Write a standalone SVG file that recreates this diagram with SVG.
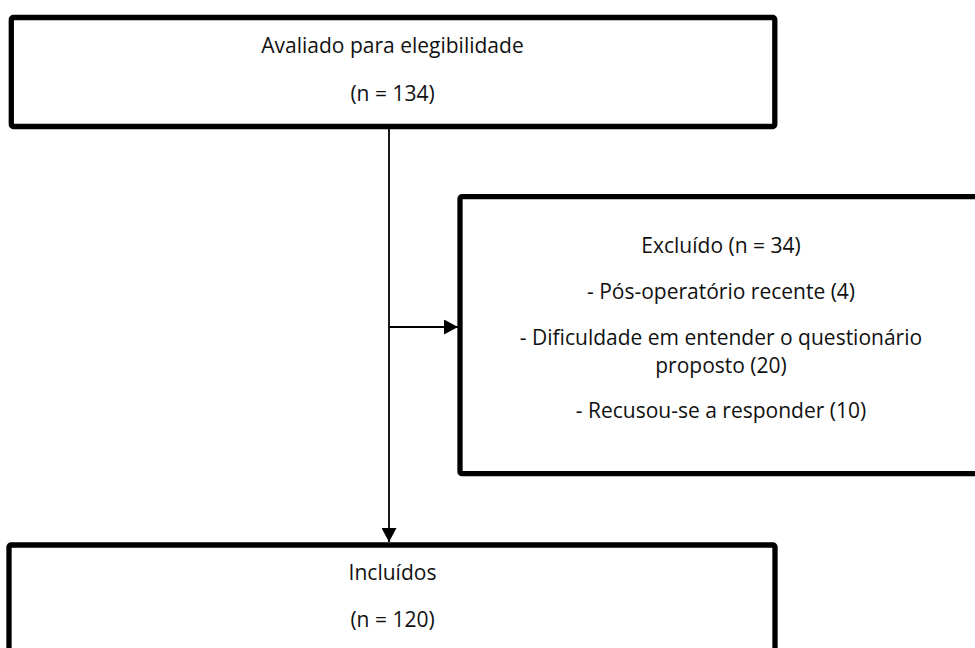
<svg xmlns="http://www.w3.org/2000/svg" width="975" height="648" viewBox="0 0 975 648">
<style>
.box{fill:#fff;stroke:#000;stroke-width:5.3}
.t{font-family:"Open Sans","Noto Sans",sans-serif;font-size:21px;fill:#111;text-anchor:middle}
.c{stroke:#000;stroke-width:1.8;fill:none}
</style>
<defs>
<marker id="ah" markerWidth="14" markerHeight="15" refX="14" refY="7.5" orient="auto" markerUnits="userSpaceOnUse" viewBox="0 0 14 15">
<path d="M0,0 L14,7.5 L0,15 z" fill="#000"/>
</marker>
</defs>
<rect width="975" height="648" fill="#fff"/>
<g id="connectors">
<line class="c" x1="389" y1="127" x2="389" y2="542" marker-end="url(#ah)"/>
<line class="c" x1="389" y1="327" x2="458" y2="327" marker-end="url(#ah)"/>
</g>
<g id="node-avaliado">
<rect class="box" x="11.3" y="17.5" width="763.5" height="109" rx="2"/>
<text class="t" x="392.5" y="53">Avaliado para elegibilidade</text>
<text class="t" x="392.5" y="101">(n = 134)</text>
</g>
<g id="node-excluido">
<rect class="box" x="460" y="196.7" width="530" height="277" rx="2"/>
<text class="t" x="721" y="253">Excluído (n = 34)</text>
<text class="t" x="721" y="299">- Pós-operatório recente (4)</text>
<text class="t" x="721" y="345">- Dificuldade em entender o questionário</text>
<text class="t" x="721" y="373">proposto (20)</text>
<text class="t" x="721" y="418">- Recusou-se a responder (10)</text>
</g>
<g id="node-incluidos">
<rect class="box" x="9" y="545" width="766" height="120" rx="2"/>
<text class="t" x="392.5" y="580">Incluídos</text>
<text class="t" x="392.5" y="627">(n = 120)</text>
</g>
</svg>
